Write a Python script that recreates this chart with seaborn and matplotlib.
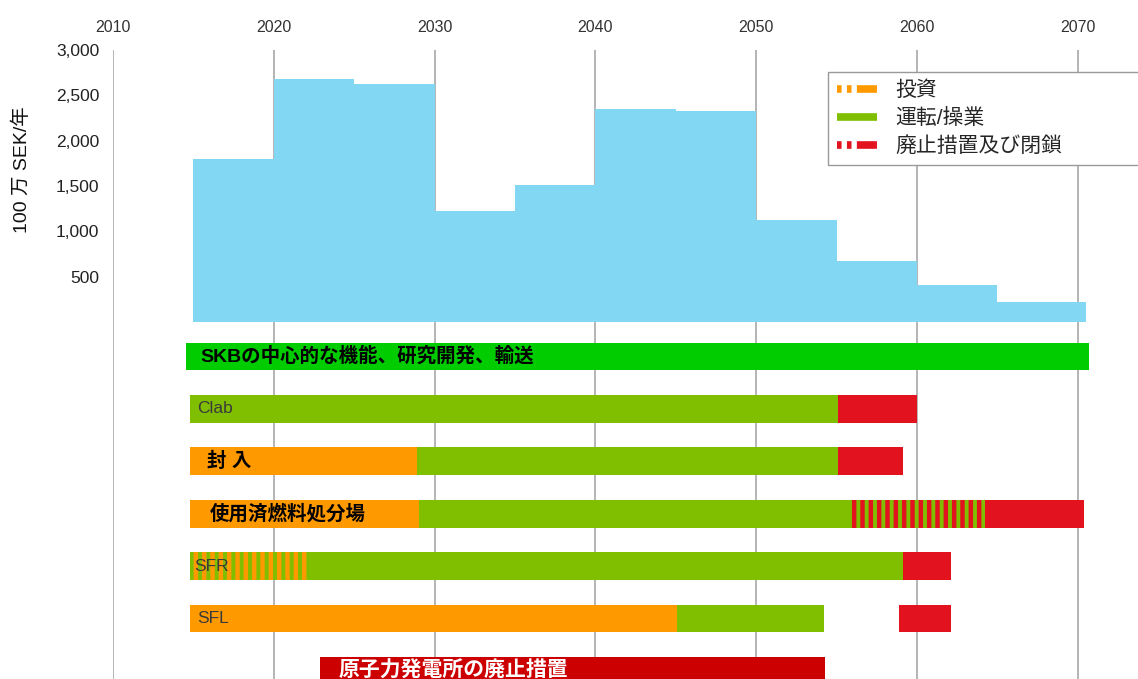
# SKB cost profile + facility timeline (Japanese labels)
import pandas as pd
import seaborn as sns
import matplotlib.pyplot as plt
from matplotlib.lines import Line2D

# annual cost per period, million SEK / year
PERIOD_EDGES = [2015, 2020, 2025, 2030, 2035, 2040, 2045, 2050, 2055, 2060, 2065, 2070.5]
PERIOD_START = PERIOD_EDGES[:-1]
COST = [1800, 2680, 2620, 1220, 1510, 2350, 2330, 1130, 670, 410, 220]

YEAR_TICKS = [2010, 2020, 2030, 2040, 2050, 2060, 2070]
COST_TICKS = [500, 1000, 1500, 2000, 2500, 3000]

# timeline rows (top to bottom)
ROWS = ["SKBの中心的な機能、研究開発、輸送", "Clab", "封 入", "使用済燃料処分場",
        "SFR", "SFL", "原子力発電所の廃止措置"]

# timeline segments
SEG_ROW = [0, 1, 1, 2, 2, 2, 3, 3, 3, 3, 4, 4, 4, 5, 5, 5, 6]
SEG_START = [2014.55, 2014.8, 2055.1, 2014.8, 2028.9, 2055.1, 2014.8, 2029.0, 2055.9, 2064.2,
             2014.8, 2022.2, 2059.1, 2014.8, 2045.1, 2058.9, 2022.9]
SEG_END = [2070.7, 2055.1, 2060.0, 2028.9, 2055.1, 2059.1, 2029.0, 2055.9, 2064.2, 2070.4,
           2022.2, 2059.1, 2062.1, 2045.1, 2054.2, 2062.1, 2054.3]
SEG_PHASE = ["skb", "op", "decom", "inv", "op", "decom", "inv", "op", "op_decom", "decom",
             "inv_op", "op", "decom", "inv", "op", "decom", "npp"]

LEGEND_LABELS = ["投資", "運転/操業", "廃止措置及び閉鎖"]

BLUE = "#82D7F2"
ORANGE = "#FF9900"
GREEN = "#80BF00"
RED = "#E3121F"
FACE = {"skb": "#00CC00", "op": GREEN, "inv": ORANGE, "decom": RED, "npp": "#CC0000",
        "inv_op": GREEN, "op_decom": GREEN}
HATCH = {"inv_op": ORANGE, "op_decom": RED}

segs = pd.DataFrame({"row": SEG_ROW, "start": SEG_START, "end": SEG_END, "phase": SEG_PHASE})

sns.set_theme(style="white")
plt.rcParams["font.family"] = ["Liberation Sans", "Noto Sans CJK JP"]
plt.rcParams["hatch.linewidth"] = 3.2

W, H = 1138, 679
px_per_year = 16.08
fig = plt.figure(figsize=(W / 100, H / 100), dpi=100)
ax_top = fig.add_axes([113 / W, 1 - 322 / H, 1 - 113 / W, 272 / H])
ax_bot = fig.add_axes([113 / W, 0, 1 - 113 / W, 357 / H], sharex=ax_top)

# cost steps
sns.histplot(x=PERIOD_START, weights=COST, bins=PERIOD_EDGES, element="step", fill=True,
             color=BLUE, alpha=1, linewidth=0, ax=ax_top)
ax_top.set_xlim(2010, 2010 + (W - 113) / px_per_year)
ax_top.set_ylim(0, 3000)
ax_top.set_xticks(YEAR_TICKS)
ax_top.set_yticks(COST_TICKS)
ax_top.set_yticklabels([f"{v:,}" for v in COST_TICKS])
ax_top.xaxis.tick_top()
ax_top.tick_params(axis="x", length=0, pad=11, labelsize=11.5, labelcolor="#333333")
ax_top.tick_params(axis="y", length=0, pad=10, labelsize=12.5, labelcolor="#222222")
ax_top.set_xlabel("")
ax_top.set_ylabel("")
ax_top.grid(axis="x", color="#A0A0A0", linewidth=1.1)
ax_top.set_axisbelow(True)
sns.despine(ax=ax_top, left=True, bottom=True)

# timeline bars
for _, s in segs.iterrows():
    hc = HATCH.get(s["phase"])
    ax_bot.barh(s["row"], s["end"] - s["start"], left=s["start"], height=0.53,
                color=FACE[s["phase"]], linewidth=0,
                hatch="||" if hc else None, edgecolor=hc if hc else "none")

ax_bot.set_ylim(6.155, -0.658)
ax_bot.set_yticks([])
ax_bot.tick_params(axis="x", length=0, labelbottom=False, labeltop=False)
ax_bot.grid(axis="x", color="#A0A0A0", linewidth=1.1)
ax_bot.set_axisbelow(True)
sns.despine(ax=ax_bot, left=True, bottom=True)

# row labels
label_style = [
    dict(dx=10, size=14, weight="bold", color="black", box=None),
    dict(dx=5, size=12.5, weight="normal", color="#3a3a3a", box=None),
    dict(dx=12, size=14, weight="bold", color="black", box=ORANGE),
    dict(dx=14, size=14, weight="bold", color="black", box=ORANGE),
    dict(dx=3, size=12.5, weight="normal", color="#3a3a3a", box=None),
    dict(dx=5, size=12.5, weight="normal", color="#3a3a3a", box=None),
    dict(dx=13, size=15, weight="bold", color="white", box=None),
]
first_start = segs.groupby("row")["start"].min()
for i, name in enumerate(ROWS):
    st = label_style[i]
    bbox = None
    if st["box"]:
        bbox = dict(boxstyle="square,pad=0.2", facecolor=st["box"], edgecolor="none")
    ax_bot.annotate(name, xy=(first_start[i], i), xytext=(st["dx"], 0),
                    textcoords="offset points", va="center", ha="left",
                    fontsize=st["size"], fontweight=st["weight"], color=st["color"], bbox=bbox)

# legend
dash = (0.6, 0.7, 0.6, 0.7, 2.5, 0.01)
handles = [
    Line2D([], [], color=ORANGE, lw=5.5, dashes=dash, dash_capstyle="butt"),
    Line2D([], [], color=GREEN, lw=5.5, solid_capstyle="butt"),
    Line2D([], [], color=RED, lw=5.5, dashes=dash, dash_capstyle="butt"),
]
fig.legend(handles, LEGEND_LABELS, loc="upper left", mode="expand",
           bbox_to_anchor=(828 / W, 1 - 72 / H, 320 / W, 0), fontsize=15,
           frameon=True, fancybox=False, framealpha=1, edgecolor="#999999",
           borderpad=0.42, labelspacing=0.38, handlelength=1.92, handletextpad=0.9,
           borderaxespad=0)

fig.text(22 / W, 1 - 170 / H, "100 万 SEK/年", rotation=90, ha="center", va="center",
         fontsize=14, color="#111111")

fig.savefig("out.png", dpi=100)
